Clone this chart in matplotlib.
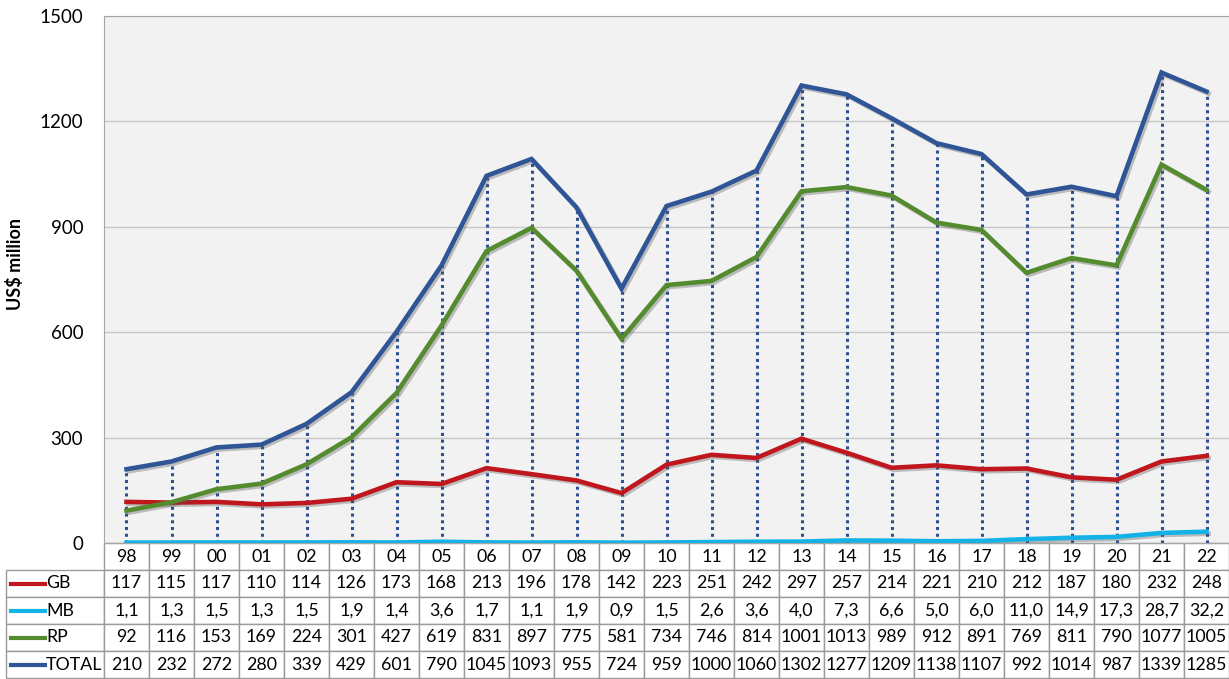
import matplotlib
matplotlib.use('Agg')
import matplotlib.pyplot as plt
import matplotlib.patheffects as pe
from matplotlib.lines import Line2D

plt.rcParams['font.family'] = ['Lato', 'DejaVu Sans']

# Dados (valores da tabela)
anos = ['98', '99', '00', '01', '02', '03', '04', '05', '06', '07', '08', '09', '10',
        '11', '12', '13', '14', '15', '16', '17', '18', '19', '20', '21', '22']
gb = [117, 115, 117, 110, 114, 126, 173, 168, 213, 196, 178, 142, 223,
      251, 242, 297, 257, 214, 221, 210, 212, 187, 180, 232, 248]
mb = [1.1, 1.3, 1.5, 1.3, 1.5, 1.9, 1.4, 3.6, 1.7, 1.1, 1.9, 0.9, 1.5,
      2.6, 3.6, 4.0, 7.3, 6.6, 5.0, 6.0, 11.0, 14.9, 17.3, 28.7, 32.2]
rp = [92, 116, 153, 169, 224, 301, 427, 619, 831, 897, 775, 581, 734,
      746, 814, 1001, 1013, 989, 912, 891, 769, 811, 790, 1077, 1005]
total = [210, 232, 272, 280, 339, 429, 601, 790, 1045, 1093, 955, 724, 959,
         1000, 1060, 1302, 1277, 1209, 1138, 1107, 992, 1014, 987, 1339, 1285]

series = [('GB', gb, '#c0161d'), ('MB', mb, '#14b2e6'),
          ('RP', rp, '#548b2e'), ('TOTAL', total, '#2f5597')]

fig = plt.figure(figsize=(12.29, 6.79), dpi=100)
ax = fig.add_axes([104 / 1229, 1 - 543 / 679, 1125 / 1229, 527 / 679])
ax.set_facecolor('#f2f2f2')

x = list(range(len(anos)))

# linhas verticais pontilhadas até o total
ax.vlines(x, 0, total, colors='#2f4f8f', linestyles=(0, (1, 1.2)), lw=2.2, zorder=2)

sombra = [pe.SimpleLineShadow(offset=(1.5, -1.5), alpha=0.35, shadow_color='#555555'), pe.Normal()]
for nome, vals, cor in series:
    ax.plot(x, vals, color=cor, lw=3.3, zorder=3, path_effects=sombra, solid_joinstyle='miter')

ax.set_xlim(-0.5, len(anos) - 0.5)
ax.set_ylim(0, 1500)
ax.set_yticks([0, 300, 600, 900, 1200, 1500])
ax.set_xticks([])
ax.yaxis.grid(True, color='#c8c8c8', lw=1)
ax.set_axisbelow(True)
ax.tick_params(axis='y', length=0, pad=15, labelsize=13.5)
for lado in ['left', 'top']:
    ax.spines[lado].set_color('#a6a6a6')
ax.spines['right'].set_visible(False)
ax.spines['bottom'].set_color('#a6a6a6')
ax.set_ylabel('US$ million', fontsize=13, fontweight='bold')
ax.yaxis.set_label_coords(-80 / 1125, 0.53)

# Tabela de dados
def fmt(v, dec):
    return f'{v:.1f}'.replace('.', ',') if dec else f'{v:d}'

linhas = []
for nome, vals, cor in series:
    linhas.append([nome] + [fmt(v, nome == 'MB') for v in vals])

larg_label = 98
larg_col = 45
larguras = [larg_label] + [larg_col] * len(anos)
tab = ax.table(cellText=linhas, colLabels=[''] + anos, colWidths=larguras,
               cellLoc='center',
               bbox=[-larg_label / 1125, -135 / 527, (1125 + larg_label) / 1125, 135 / 527])
tab.auto_set_font_size(False)
tab.set_fontsize(12.8)
for (r, c), cel in tab.get_celld().items():
    cel.set_edgecolor('#9a9a9a')
    cel.set_linewidth(1)
    cel.set_facecolor('white')
    if r == 0 and c == 0:
        cel.visible_edges = ''
    if r > 0 and c == 0:
        cel._loc = 'left'
        cel.PAD = 0.41
        cel.get_text().set_ha('left')

fig.canvas.draw()
ren = fig.canvas.get_renderer()
inv = fig.transFigure.inverted()
for i, (nome, vals, cor) in enumerate(series):
    cel = tab[i + 1, 0]
    bb = cel.get_window_extent(ren)
    x0, y0 = inv.transform((bb.x0 + 0.05 * bb.width, (bb.y0 + bb.y1) / 2))
    x1, _ = inv.transform((bb.x0 + 0.40 * bb.width, 0))
    fig.add_artist(Line2D([x0, x1], [y0, y0], color=cor, lw=3, transform=fig.transFigure))

plt.savefig('out.png', dpi=100)
